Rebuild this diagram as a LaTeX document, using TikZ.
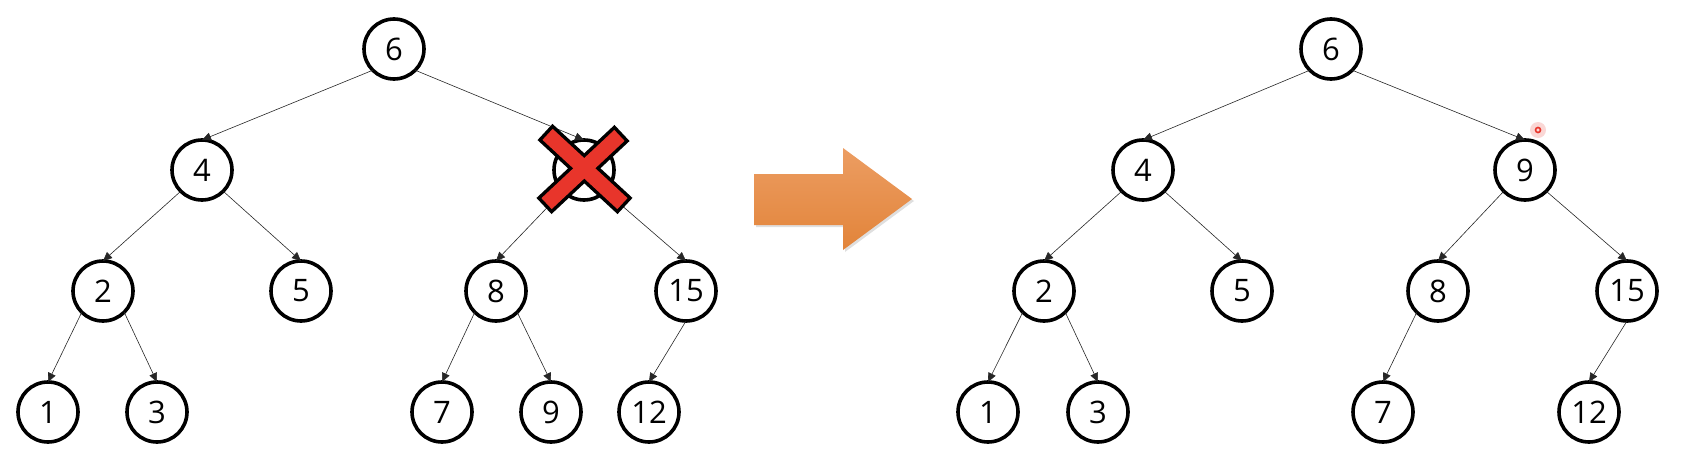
\documentclass[tikz,border=0pt]{standalone}
\usepackage{fontspec}
\setmainfont{Open Sans}
\usetikzlibrary{arrows.meta, shadows}

\definecolor{crossred}{HTML}{E8352B}
\definecolor{arrowtop}{HTML}{EC9D62}
\definecolor{arrowbot}{HTML}{E2843A}

\begin{document}
\begin{tikzpicture}[
    x=1pt, y=-1pt,
    >={Triangle[length=9pt, width=8pt]}, % small filled tips
    % Styles
    key/.style={ % tree node
        circle,
        draw,
        line width=3.6pt,
        minimum size=60pt,
        inner sep=0pt,
        outer sep=0pt,
        font=\fontsize{31}{31}\selectfont
    },
    edge/.style={ % parent -> child
        ->,
        line width=0.6pt,
        black!85
    },
    crossbar/.style={ % outline of the cross
        line width=22pt,
        black
    },
    crossfill/.style={ % red part of the cross
        line width=15pt,
        crossred,
        shorten <=3.5pt,
        shorten >=3.5pt
    },
    cursor/.style={ % small red ring
        circle,
        draw=crossred,
        line width=1.6pt,
        minimum size=5pt,
        inner sep=0pt
    }
]
    \useasboundingbox (0,0) rectangle (1702,452);

    % Tree before deletion
    \foreach \n/\x/\y/\t in {l6/394/49/6, l4/202/170/4, lx/584/170/{},
        l2/103/291/2, l5/301/291/5, l8/496/291/8, l15/686/291/15,
        l1/48/412/1, l3/157/412/3, l7/442/412/7, l9/551/412/9, l12/649/412/12} {
        \node[key] (\n) at (\x,\y) {\t};
    }
    \foreach \a/\s/\b in {l6/south west/l4, l6/south east/lx,
        l4/south west/l2, l4/south east/l5, l2/south west/l1, l2/south east/l3,
        lx/south west/l8, lx/south east/l15, l8/south west/l7, l8/south east/l9,
        l15/south/l12} {
        \draw[edge] (\a.\s) -- (\b.north);
    }

    % Cross over the deleted node
    \coordinate (xa) at (545,132);
    \coordinate (xb) at (625,206);
    \coordinate (xc) at (622,133);
    \coordinate (xd) at (544,206);
    \draw[crossbar] (xa) -- (xb);
    \draw[crossbar] (xc) -- (xd);
    \draw[crossfill] (xa) -- (xb);
    \draw[crossfill] (xc) -- (xd);

    % Big arrow
    \shade[top color=arrowtop, bottom color=arrowbot,
        drop shadow={opacity=0.25, shadow xshift=2pt, shadow yshift=-2pt}]
        (754,174) -- (843,174) -- (843,148) -- (912,199) -- (843,250)
        -- (843,225) -- (754,225) -- cycle;

    % Tree after deletion
    \foreach \n/\x/\y/\t in {r6/1331/49/6, r4/1143/170/4, r9/1525/170/9,
        r2/1044/291/2, r5/1242/291/5, r8/1438/291/8, r15/1627/291/15,
        r1/988/412/1, r3/1098/412/3, r7/1383/412/7, r12/1589/412/12} {
        \node[key] (\n) at (\x,\y) {\t};
    }
    \foreach \a/\s/\b in {r6/south west/r4, r6/south east/r9,
        r4/south west/r2, r4/south east/r5, r2/south west/r1, r2/south east/r3,
        r9/south west/r8, r9/south east/r15, r8/south west/r7,
        r15/south/r12} {
        \draw[edge] (\a.\s) -- (\b.north);
    }

    % Pointer mark
    \fill[crossred!20] (1538,130) circle (8);
    \node[cursor] (mark) at (1538,130) {};

\end{tikzpicture}
\end{document}
